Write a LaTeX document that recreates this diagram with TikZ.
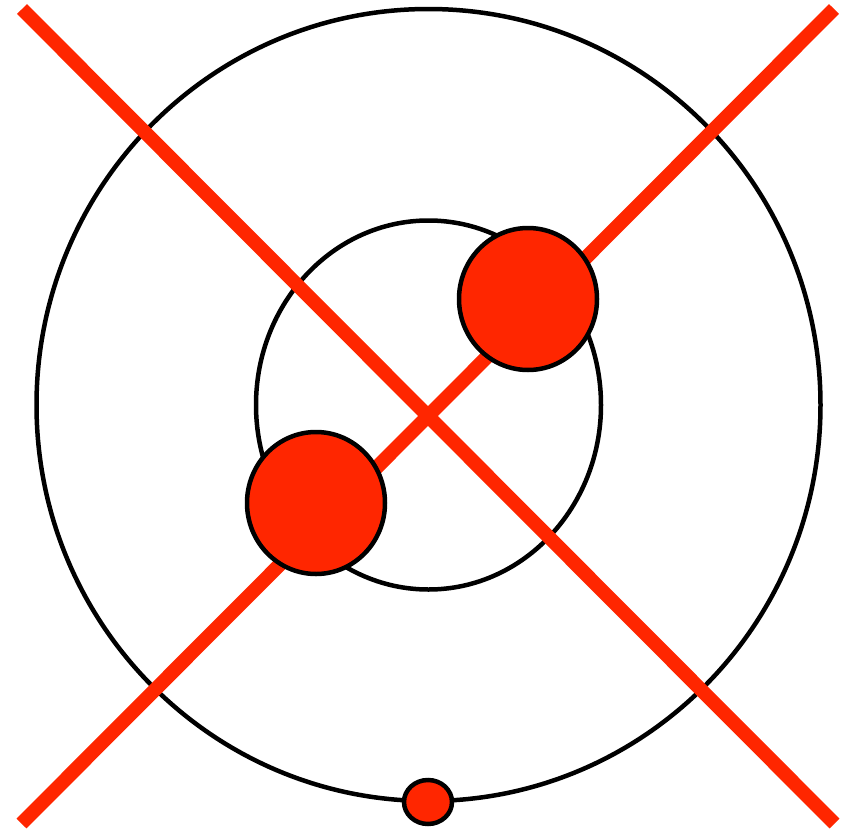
\documentclass[tikz,border=0pt]{standalone}
\definecolor{rd}{RGB}{255,38,0}
\begin{document}
\begin{tikzpicture}[x=1pt,y=-1pt,
  ring/.style={draw=black,line width=4.5pt},
  bar/.style={draw=rd,line width=14pt,line cap=butt},
  ball/.style={draw=black,fill=rd,line width=4.5pt}]
\useasboundingbox (0,0) rectangle (857,830);
\coordinate (c) at (428.5,405);
\draw[ring] (c) ellipse [x radius=392, y radius=396];
\draw[ring] (c) ellipse [x radius=172.5, y radius=184.5];
\coordinate (a1) at (22,9);
\coordinate (a2) at (834.5,823.5);
\coordinate (b1) at (834,9);
\coordinate (b2) at (21.5,823.5);
\draw[bar] (a1) -- (a2);
\draw[bar] (b1) -- (b2);
\draw[ball] (528,299) ellipse [x radius=69, y radius=71];
\draw[ball] (316,503) ellipse [x radius=69, y radius=71];
\draw[ball] (428,802) ellipse [x radius=24, y radius=22];
\end{tikzpicture}
\end{document}
